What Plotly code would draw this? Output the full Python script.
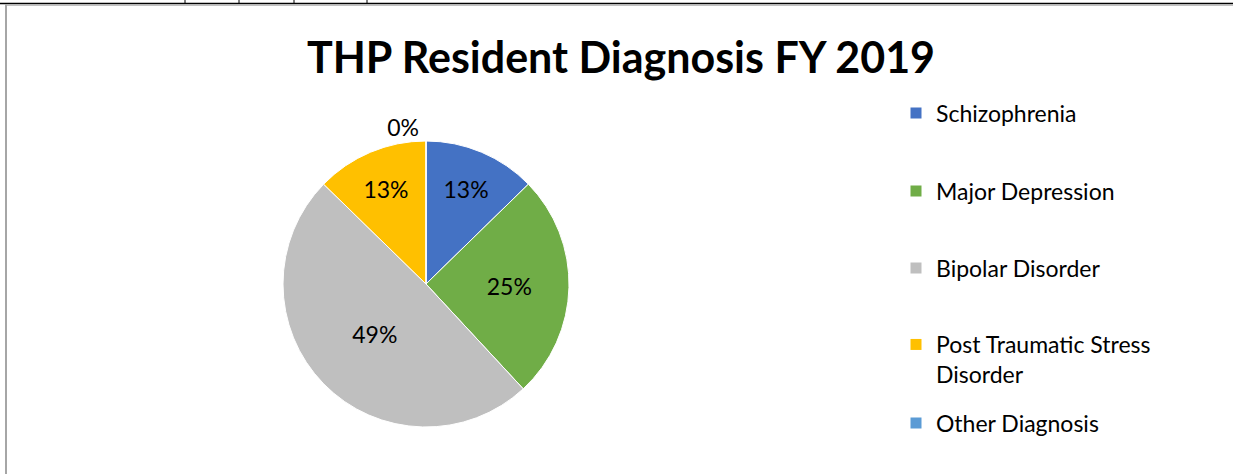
import plotly.graph_objects as go

# ---- data ----
categories = ["Schizophrenia", "Major Depression", "Bipolar Disorder",
              "Post Traumatic Stress Disorder", "Other Diagnosis"]
legend_labels = ["Schizophrenia", "Major Depression", "Bipolar Disorder",
                 "Post Traumatic Stress<br>Disorder", "Other Diagnosis"]
values = [12.7, 25.4, 49.2, 12.7, 0]
colors = ["#4472C4", "#70AD47", "#BFBFBF", "#FFC000", "#5B9BD5"]

W, H = 1233, 474
FONT = "Lato"

fig = go.Figure()

# pie geometry (pixels)
cx, cy, r = 426, 284, 143
fig.add_trace(go.Pie(
    labels=categories, values=values, sort=False, direction="clockwise",
    rotation=0, marker=dict(colors=colors, line=dict(color="white", width=1)),
    textinfo="percent", texttemplate="%{percent:.0%}",
    textposition=["inside", "inside", "inside", "inside", "outside"],
    insidetextorientation="horizontal",
    textfont=dict(family=FONT, size=23, color="#000000"),
    domain=dict(x=[(cx - r) / W, (cx + r) / W], y=[1 - (cy + r) / H, 1 - (cy - r) / H]),
    showlegend=False, automargin=False,
))

# legend entries, one legend each so they can be spaced like the original
legend_centers = [113, 191, 268, 345, 423]
layout_legends = {}
for i, (lab, col, yc) in enumerate(zip(legend_labels, colors, legend_centers)):
    name = "legend" if i == 0 else f"legend{i + 1}"
    fig.add_trace(go.Scatter(
        x=[None], y=[None], mode="markers", name=lab,
        marker=dict(symbol="square", size=11, color=col),
        legend=name, showlegend=True, hoverinfo="skip",
    ))
    multi = "<br>" in lab
    layout_legends[name] = dict(
        x=896 / W, xanchor="left",
        y=1 - (yc - 22) / H if multi else 1 - yc / H,
        yanchor="top" if multi else "middle",
        valign="top", bgcolor="rgba(0,0,0,0)",
        font=dict(family=FONT, size=23, color="#000000"),
        itemwidth=30,
    )

# frame lines (page/table borders around the chart)
shapes = [
    dict(type="line", xref="paper", yref="paper", x0=0, x1=1, y0=1 - 3.5 / H, y1=1 - 3.5 / H,
         line=dict(color="#000000", width=1.5)),
    dict(type="line", xref="paper", yref="paper", x0=5 / W, x1=1, y0=1 - 5.2 / H, y1=1 - 5.2 / H,
         line=dict(color="#A6A6A6", width=1)),
    dict(type="line", xref="paper", yref="paper", x0=6 / W, x1=6 / W, y0=0, y1=1 - 4.5 / H,
         line=dict(color="#A6A6A6", width=2)),
]
for xv in [185, 239, 294, 367]:
    shapes.append(dict(type="line", xref="paper", yref="paper", x0=xv / W, x1=xv / W,
                       y0=1 - 3.5 / H, y1=1, line=dict(color="#000000", width=1)))

fig.update_layout(
    width=W, height=H,
    margin=dict(l=0, r=0, t=0, b=0),
    paper_bgcolor="white", plot_bgcolor="white",
    title=dict(text="<b>THP Resident Diagnosis FY 2019</b>", x=621 / W, xanchor="center",
               y=1 - 58 / H, yanchor="middle", yref="paper",
               font=dict(family=FONT, size=43, color="#000000")),
    xaxis=dict(visible=False), yaxis=dict(visible=False),
    shapes=shapes,
    **layout_legends,
)

fig.write_html("out.html", config={"displayModeBar": False},
               post_script="document.body.style.margin='0px';")
